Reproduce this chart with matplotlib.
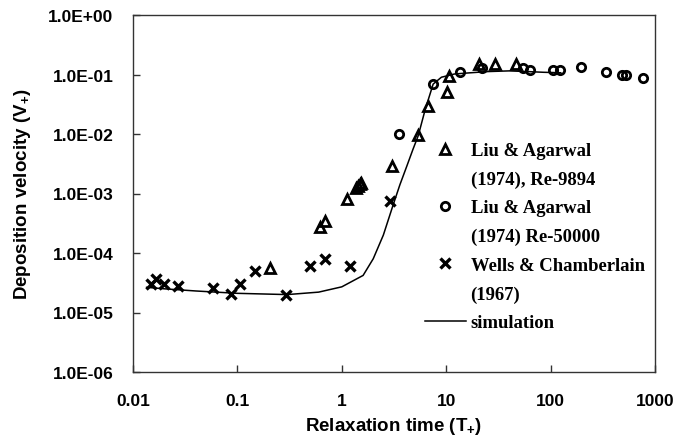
import matplotlib
matplotlib.use("Agg")
import matplotlib.pyplot as plt
from matplotlib.lines import Line2D
from matplotlib.ticker import FixedLocator, FixedFormatter, NullLocator

# ---- data ----
tri_x = [0.207, 0.618, 0.69, 1.11, 1.38, 1.43, 1.48, 1.52, 3.0, 5.4, 6.74, 10.1, 10.6, 20.5, 29.3, 47.0]
tri_y = [5.5e-5, 2.7e-4, 3.5e-4, 8.1e-4, 1.25e-3, 1.35e-3, 1.45e-3, 1.5e-3, 2.9e-3, 9.6e-3, 3.0e-2,
         5.1e-2, 9.3e-2, 1.5e-1, 1.5e-1, 1.5e-1]

circ_x = [3.56, 7.5, 13.5, 21.9, 54.8, 63.0, 106.0, 123.0, 194.0, 340.0, 480.0, 530.0, 773.0]
circ_y = [1.0e-2, 6.9e-2, 1.09e-1, 1.30e-1, 1.28e-1, 1.18e-1, 1.18e-1, 1.18e-1, 1.32e-1,
          1.09e-1, 9.8e-2, 9.8e-2, 8.6e-2]

cross_x = [0.015, 0.0165, 0.0197, 0.027, 0.058, 0.0875, 0.107, 0.146, 0.294, 0.5, 0.686, 1.19, 2.9]
cross_y = [3.0e-5, 3.66e-5, 3.0e-5, 2.8e-5, 2.55e-5, 2.04e-5, 3.0e-5, 5.0e-5, 1.97e-5, 6.0e-5,
           7.9e-5, 6.0e-5, 7.6e-4]

sim_x = [0.0135, 0.02, 0.04, 0.1, 0.3, 0.6, 1.0, 1.6, 2.0, 2.5, 3.1, 3.6, 4.2, 4.8, 5.4, 6.3, 7.5,
         9.0, 12.0, 16.0, 25.0, 40.0, 60.0, 85.0, 125.0]
sim_y = [2.65e-5, 2.5e-5, 2.3e-5, 2.1e-5, 2.0e-5, 2.2e-5, 2.7e-5, 4.2e-5, 8.0e-5, 2.0e-4, 6.4e-4,
         1.4e-3, 2.9e-3, 5.5e-3, 9.4e-3, 2.6e-2, 6.9e-2, 9.0e-2, 1.02e-1, 1.06e-1, 1.12e-1,
         1.15e-1, 1.12e-1, 1.09e-1, 1.07e-1]

xticks = [0.01, 0.1, 1, 10, 100, 1000]
xtick_labels = ["0.01", "0.1", "1", "10", "100", "1000"]
yticks = [1e-6, 1e-5, 1e-4, 1e-3, 1e-2, 1e-1, 1e0]
ytick_labels = ["1.0E-06", "1.0E-05", "1.0E-04", "1.0E-03", "1.0E-02", "1.0E-01", "1.0E+00"]

legend_labels = ["Liu & Agarwal", "(1974), Re-9894", "Liu & Agarwal", "(1974) Re-50000",
                 "Wells & Chamberlain", "(1967)", "simulation"]

# ---- style ----
plt.rcParams['font.family'] = ['Liberation Sans', 'DejaVu Sans']
plt.rcParams['mathtext.fontset'] = 'custom'
plt.rcParams['mathtext.rm'] = 'Liberation Sans:bold'
plt.rcParams['mathtext.bf'] = 'Liberation Sans:bold'
plt.rcParams['mathtext.default'] = 'bf'

fig = plt.figure(figsize=(6.78, 4.39), dpi=100)
ax = fig.add_axes([133/678, 1-373/439, (655-133)/678, (373-16)/439])

ax.plot(sim_x, sim_y, color='black', lw=1.1, zorder=2)
ax.plot(tri_x, tri_y, linestyle='none', marker='^', ms=6.5, mfc='none', mec='black', mew=2.0, zorder=3)
ax.plot(circ_x, circ_y, linestyle='none', marker='o', ms=6, mfc='none', mec='black', mew=2.0, zorder=3)
ax.plot(cross_x, cross_y, linestyle='none', marker='x', ms=7, mec='black', mew=2.4, zorder=3)

ax.set_xscale('log')
ax.set_yscale('log')
ax.set_xlim(0.01, 1000)
ax.set_ylim(1e-6, 1)

ax.xaxis.set_major_locator(FixedLocator(xticks))
ax.xaxis.set_major_formatter(FixedFormatter(xtick_labels))
ax.xaxis.set_minor_locator(NullLocator())
ax.yaxis.set_major_locator(FixedLocator(yticks))
ax.yaxis.set_major_formatter(FixedFormatter(ytick_labels))
ax.yaxis.set_minor_locator(NullLocator())

ax.tick_params(axis='both', which='major', direction='in', length=5, width=1, colors='#333333',
               labelcolor='black', labelsize=12.5)
ax.tick_params(axis='y', pad=14)
ax.tick_params(axis='x', pad=15)
for lab in ax.get_xticklabels() + ax.get_yticklabels():
    lab.set_fontweight('bold')

for sp in ax.spines.values():
    sp.set_color('#333333')
    sp.set_linewidth(1.0)

ax.set_xlabel(r'Relaxation time (T$_{+}$)', fontsize=13.5, fontweight='bold', labelpad=5)
ax.set_ylabel(r'Deposition velocity (V$_{+}$)', fontsize=13.5, fontweight='bold', labelpad=11)

# ---- legend ----
blank = Line2D([], [], linestyle='none')
handles = [
    Line2D([], [], linestyle='none', marker='^', ms=6.5, mfc='none', mec='black', mew=2.0),
    blank,
    Line2D([], [], linestyle='none', marker='o', ms=6, mfc='none', mec='black', mew=2.0),
    blank,
    Line2D([], [], linestyle='none', marker='x', ms=7, mec='black', mew=2.4),
    blank,
    Line2D([], [], color='black', lw=1.1),
]
leg = ax.legend(handles, legend_labels, loc='upper left',
                bbox_to_anchor=(425/678, 1-143/439), bbox_transform=fig.transFigure,
                frameon=False, borderpad=0, borderaxespad=0,
                handlelength=2.2, handletextpad=0.25, labelspacing=0.62,
                prop={'family': 'Liberation Serif', 'weight': 'bold', 'size': 13.4})

fig.savefig('out.png', dpi=100)
